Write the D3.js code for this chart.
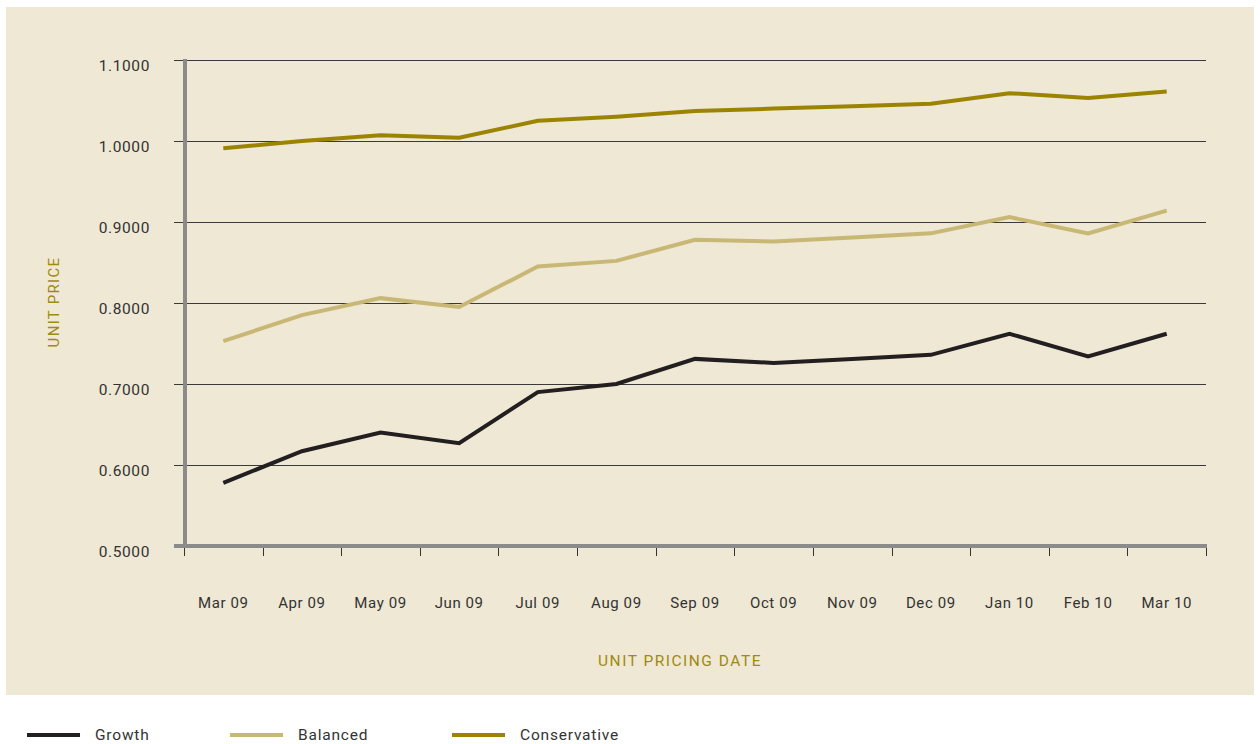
<!DOCTYPE html>
<html>
<head>
<meta charset="utf-8">
<script src="https://cdn.jsdelivr.net/npm/d3@7/dist/d3.min.js"></script>
<style>
  body { margin: 0; background: #fff; }
  svg text { font-family: Roboto, "DejaVu Sans", sans-serif; }
</style>
</head>
<body>
<div id="chart"></div>
<script>
// month labels on the x axis
const months = ['Mar 09', 'Apr 09', 'May 09', 'Jun 09', 'Jul 09', 'Aug 09', 'Sep 09',
  'Oct 09', 'Nov 09', 'Dec 09', 'Jan 10', 'Feb 10', 'Mar 10'];

// unit prices
const growth = [0.578, 0.617, 0.640, 0.627, 0.690, 0.700, 0.731, 0.726, 0.731, 0.736, 0.762, 0.734, 0.762];
const balanced = [0.753, 0.785, 0.806, 0.795, 0.845, 0.852, 0.878, 0.876, 0.881, 0.886, 0.906, 0.886, 0.914];
const conservative = [0.991, 1.000, 1.007, 1.004, 1.025, 1.030, 1.037, 1.040, 1.043, 1.046, 1.059, 1.053, 1.061];

const yTicks = [0.5, 0.6, 0.7, 0.8, 0.9, 1.0, 1.1];

const seriesNames = ['Growth', 'Balanced', 'Conservative'];
const seriesColors = ['#231f20', '#c9b775', '#9c8400'];

const series = [growth, balanced, conservative].map((vals, i) => ({
  name: seriesNames[i],
  color: seriesColors[i],
  values: vals.map((v, j) => ({ month: months[j], value: v }))
}));

const W = 1260, H = 744;
const svg = d3.select('#chart').append('svg')
    .attr('width', W)
    .attr('height', H);

// beige panel
svg.append('rect')
    .attr('x', 6).attr('y', 7)
    .attr('width', 1248).attr('height', 688)
    .attr('fill', '#eee8d4');

const xScale = d3.scaleBand().domain(months).range([184, 1206]);
const yScale = d3.scaleLinear().domain([0.5, 1.1]).range([546, 60]);

// horizontal grid lines
svg.append('g')
  .selectAll('line')
  .data(yTicks.slice(1))
  .join('line')
    .attr('x1', 174).attr('x2', 1206)
    .attr('y1', d => Math.round(yScale(d)) + 0.5)
    .attr('y2', d => Math.round(yScale(d)) + 0.5)
    .attr('stroke', '#3a3a3a')
    .attr('stroke-width', 1);

// y tick labels (sit a little below their grid line)
svg.append('g')
  .selectAll('text')
  .data(yTicks)
  .join('text')
    .attr('x', 150)
    .attr('y', d => yScale(d) + 11)
    .attr('text-anchor', 'end')
    .attr('font-size', 15.5)
    .attr('letter-spacing', 0.6)
    .attr('fill', '#333')
    .text(d3.format('.4f'));

// x tick marks at band edges
const edges = months.map(m => xScale(m)).concat([xScale.range()[1]]);
svg.append('g')
  .selectAll('line')
  .data(edges)
  .join('line')
    .attr('x1', d => Math.round(d) + 0.5).attr('x2', d => Math.round(d) + 0.5)
    .attr('y1', 546).attr('y2', 556)
    .attr('stroke', '#333')
    .attr('stroke-width', 1);

// x tick labels
svg.append('g')
  .selectAll('text')
  .data(months)
  .join('text')
    .attr('x', d => xScale(d) + xScale.bandwidth() / 2)
    .attr('y', 608)
    .attr('text-anchor', 'middle')
    .attr('font-size', 15)
    .attr('letter-spacing', 0.6)
    .attr('fill', '#333')
    .text(d => d);

// thick grey axes
svg.append('line')
    .attr('x1', 185).attr('x2', 185)
    .attr('y1', 59).attr('y2', 548)
    .attr('stroke', '#8b8b8b').attr('stroke-width', 4);
svg.append('line')
    .attr('x1', 174).attr('x2', 1207)
    .attr('y1', 546).attr('y2', 546)
    .attr('stroke', '#8b8b8b').attr('stroke-width', 4);

// lines
const line = d3.line()
    .x(d => xScale(d.month) + xScale.bandwidth() / 2)
    .y(d => yScale(d.value));

svg.append('g')
  .selectAll('path')
  .data(series)
  .join('path')
    .attr('d', d => line(d.values))
    .attr('fill', 'none')
    .attr('stroke', d => d.color)
    .attr('stroke-width', 4);

// axis titles
svg.append('text')
    .attr('transform', 'translate(59,302) rotate(-90)')
    .attr('text-anchor', 'middle')
    .attr('font-size', 15)
    .attr('letter-spacing', 1.3)
    .attr('fill', '#a08a10')
    .text('UNIT PRICE');

svg.append('text')
    .attr('x', 680).attr('y', 666)
    .attr('text-anchor', 'middle')
    .attr('font-size', 15.5)
    .attr('letter-spacing', 1.5)
    .attr('fill', '#a08a10')
    .text('UNIT PRICING DATE');

// legend
const legendX = [27, 230, 452];
const legend = svg.append('g')
  .selectAll('g')
  .data(series)
  .join('g')
    .attr('transform', (d, i) => 'translate(' + legendX[i] + ',735)');
legend.append('line')
    .attr('x1', 0).attr('x2', 53)
    .attr('stroke', d => d.color)
    .attr('stroke-width', 4);
legend.append('text')
    .attr('x', 68).attr('y', 5)
    .attr('font-size', 15.5)
    .attr('fill', '#333')
    .attr('letter-spacing', 0.8)
    .text(d => d.name);
</script>
</body>
</html>
